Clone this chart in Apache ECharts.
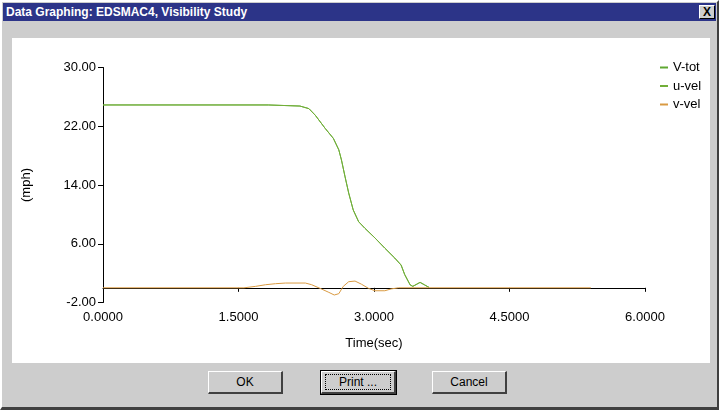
<!DOCTYPE html>
<html>
<head>
<meta charset="utf-8">
<script src="https://cdn.jsdelivr.net/npm/echarts@6/dist/echarts.min.js"></script>
<style>
  html, body { margin: 0; padding: 0; }
  body { width: 719px; height: 410px; overflow: hidden; font-family: "Liberation Sans", Arial, sans-serif; }
  .win { position: absolute; left: 0; top: 0; width: 719px; height: 410px; background: #cdcdcd;
         box-sizing: border-box; border-left: 2px solid #ffffff; border-top: 2px solid #ffffff;
         border-right: 2px solid #404040; border-bottom: 3px solid #404040; }
  .title { position: absolute; left: 3px; top: 3px; width: 713px; height: 18px; background: #2c3488;
           color: #fff; font-weight: bold; font-size: 12px; line-height: 18px; }
  .title span { position: absolute; left: 3px; top: 0; }
  .close { position: absolute; left: 699px; top: 5px; width: 16px; height: 14px; background: #cdcdcd;
           box-sizing: border-box; border-left: 1px solid #fff; border-top: 1px solid #fff;
           border-right: 1px solid #000; border-bottom: 1px solid #000;
           color: #000; font-size: 12px; font-weight: bold; line-height: 12px; text-align: center; }
  .panel { position: absolute; left: 12px; top: 38px; width: 698px; height: 325px; background: #fff; }
  .btn { position: absolute; top: 371px; width: 75px; height: 23px; background: #cdcdcd; box-sizing: border-box;
         border-left: 1px solid #fff; border-top: 1px solid #fff; border-right: 2px solid #404040;
         border-bottom: 2px solid #404040; font-size: 12px; line-height: 20px; text-align: center; color: #000; }
  .btn.def { outline: 1px solid #000; }
  .btn.def .focus { position: absolute; left: 3px; right: 3px; top: 2px; bottom: 2px;
                    border: 1px dotted #000; line-height: 14px; }
</style>
</head>
<body>
<div class="win">
</div>
<div class="title"><span>Data Graphing: EDSMAC4, Visibility Study</span></div>
<div class="close">X</div>
<div class="panel" id="chart"></div>
<div class="btn" style="left:208px">OK</div>
<div class="btn def" style="left:321px"><div class="focus">Print ...</div></div>
<div class="btn" style="left:432px">Cancel</div>
<script>
// 数据
var seriesNames = ['V-tot', 'u-vel', 'v-vel'];
var seriesColors = ['#5fa832', '#72ae38', '#d99a42'];

var tGreen = [0, 1.83, 1.84, 2.18, 2.28, 2.35, 2.46, 2.55, 2.61, 2.64, 2.68, 2.72, 2.77, 2.83,
              2.90, 3.01, 3.12, 3.23, 3.30, 3.34, 3.40, 3.43, 3.51, 3.56, 3.61];
var vTot   = [24.9, 24.9, 24.75, 24.75, 24.4, 23.5, 21.7, 20.35, 18.8, 17.4, 15.1, 12.9, 10.6, 9.0,
              8.1, 6.8, 5.4, 4.05, 3.1, 1.8, 0.4, 0.2, 0.74, 0.4, 0.05];
var uVel   = [24.9, 24.9, 24.75, 24.75, 24.4, 23.5, 21.7, 20.35, 18.8, 17.4, 15.1, 12.9, 10.6, 9.0,
              8.1, 6.8, 5.4, 4.05, 3.1, 1.8, 0.4, 0.2, 0.74, 0.4, 0.05];

var tOrange = [0, 1.56, 1.69, 1.80, 1.91, 2.02, 2.24, 2.31, 2.42, 2.50, 2.56, 2.61, 2.66, 2.72,
               2.79, 2.86, 2.94, 3.01, 3.12, 3.19, 3.27, 5.40];
var vVel    = [0, 0, 0.2, 0.42, 0.56, 0.65, 0.65, 0.42, -0.17, -0.62, -0.98, -0.8, 0.2, 0.83,
               0.92, 0.5, -0.08, -0.4, -0.4, -0.15, 0, 0];

var yTicks = [-2, 6, 14, 22, 30];
var xTicks = [0, 1.5, 3, 4.5, 6];

function pairs(xs, ys) {
    return xs.map(function (x, i) { return [x, ys[i]]; });
}

var chart = echarts.init(document.getElementById('chart'));
var font = '"Liberation Sans", Arial, sans-serif';

var option = {
    animation: false,
    textStyle: { fontFamily: font, color: '#000' },
    grid: { left: 88, right: 65, top: 29.5, bottom: 60.5 },
    legend: {
        orient: 'vertical',
        left: 643,
        top: 18,
        icon: 'rect',
        itemWidth: 8,
        itemHeight: 2,
        itemGap: 5.5,
        data: seriesNames,
        textStyle: { fontSize: 13, color: '#000', fontFamily: font }
    },
    xAxis: {
        type: 'value',
        min: xTicks[0],
        max: xTicks[xTicks.length - 1],
        interval: 1.5,
        name: 'Time(sec)',
        nameLocation: 'middle',
        nameGap: 34,
        nameTextStyle: { fontSize: 13, color: '#000' },
        axisLine: { lineStyle: { color: '#000', width: 1 } },
        axisTick: { length: 4, lineStyle: { color: '#000' } },
        axisLabel: { fontSize: 13, color: '#000', margin: 8,
            formatter: function (v) { return v.toFixed(4); } },
        splitLine: { show: false }
    },
    yAxis: {
        type: 'value',
        min: yTicks[0],
        max: yTicks[yTicks.length - 1],
        interval: 8,
        name: '(mph)',
        nameLocation: 'middle',
        nameGap: 70,
        nameTextStyle: { fontSize: 13, color: '#000' },
        axisLine: { show: true, lineStyle: { color: '#000', width: 1 } },
        axisTick: { show: true, length: 5, lineStyle: { color: '#000' } },
        axisLabel: { fontSize: 13, color: '#000', margin: 7,
            formatter: function (v) { return v.toFixed(2); } },
        splitLine: { show: false }
    },
    series: [
        { name: seriesNames[0], type: 'line', data: pairs(tGreen, vTot), showSymbol: false,
          color: seriesColors[0], lineStyle: { width: 1, color: seriesColors[0] } },
        { name: seriesNames[1], type: 'line', data: pairs(tGreen, uVel), showSymbol: false,
          color: seriesColors[1], lineStyle: { width: 1, color: seriesColors[1] } },
        { name: seriesNames[2], type: 'line', data: pairs(tOrange, vVel), showSymbol: false,
          color: seriesColors[2], lineStyle: { width: 1, color: seriesColors[2] } }
    ]
};

chart.setOption(option);
</script>
</body>
</html>
